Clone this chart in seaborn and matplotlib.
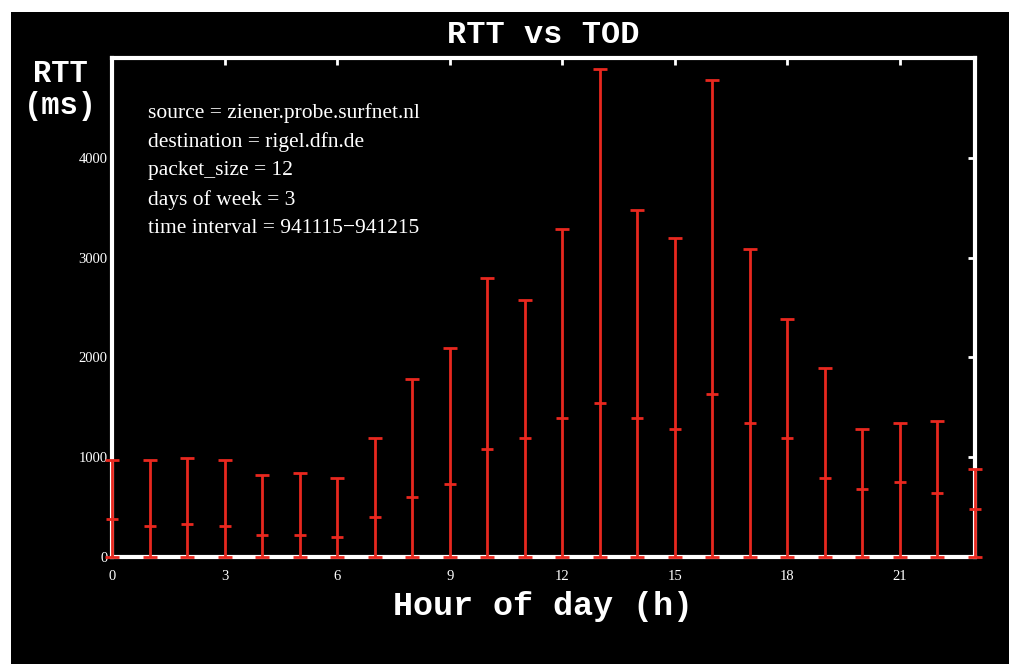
import numpy as np
import pandas as pd
import matplotlib
matplotlib.use("Agg")
import matplotlib.pyplot as plt
import seaborn as sns
from matplotlib.patches import Rectangle

# --- data ---
hours = list(range(24))
rtt_mean = [378, 311, 334, 311, 224, 224, 200, 398, 599, 733, 1081, 1191,
            1389, 1543, 1389, 1278, 1630, 1342, 1191, 793, 683, 750, 639, 485]
rtt_max = [972, 970, 994, 970, 820, 840, 796, 1195, 1784, 2096, 2798, 2580,
           3283, 4890, 3481, 3196, 4782, 3082, 2380, 1898, 1278, 1342, 1365, 880]
rtt_min = [0] * 24

x_ticks = [0, 3, 6, 9, 12, 15, 18, 21]
y_ticks = [0, 1000, 2000, 3000, 4000]

info_lines = [
    "source = ziener.probe.surfnet.nl",
    "destination = rigel.dfn.de",
    "packet_size = 12",
    "days of week = 3",
    "time interval = 941115\u2212941215",
]

df = pd.DataFrame({"hour": hours, "mean": rtt_mean, "max": rtt_max, "min": rtt_min})

RED = "#e8281f"
sns.set_style("dark", {"axes.facecolor": "black", "figure.facecolor": "white",
                       "axes.edgecolor": "white", "text.color": "white",
                       "xtick.color": "white", "ytick.color": "white"})
plt.rcParams["font.family"] = ["Liberation Serif", "DejaVu Serif"]

fig = plt.figure(figsize=(10.09, 6.64), dpi=100)
# black canvas with thin white margin at top/left
fig.patches.append(Rectangle((11 / 1009, 0), 1, 1 - 12 / 664, transform=fig.transFigure,
                             facecolor="black", edgecolor="none", zorder=-10))
ax = fig.add_axes([112 / 1009, 1 - 557 / 664, 863 / 1009, 499 / 664])
ax.set_facecolor("black")

# min/max whiskers as error bars, mean ticks through seaborn
yerr = np.vstack([df["mean"] - df["min"], df["max"] - df["mean"]])
ax.errorbar(df["hour"], df["mean"], yerr=yerr, fmt="none", ecolor=RED,
            elinewidth=2, capsize=5, capthick=2, zorder=5, clip_on=False)
sns.scatterplot(data=df, x="hour", y="mean", marker="_", s=70, color=RED,
                linewidth=2, ax=ax, zorder=6, clip_on=False, legend=False)

ax.set_xlim(0, 23)
ax.set_ylim(0, 5000)
ax.set_xticks(x_ticks)
ax.set_yticks(y_ticks)
ax.tick_params(direction="in", length=5, width=2, colors="white",
               top=True, right=True, labelsize=10.5)
ax.tick_params(axis="y", pad=3)
ax.tick_params(axis="x", pad=9)
for lab in ax.get_xticklabels() + ax.get_yticklabels():
    lab.set_color("white")
for sp in ax.spines.values():
    sp.set_color("white")
    sp.set_linewidth(3)
    sp.set_visible(True)
ax.grid(False)
ax.set_xlabel("")
ax.set_ylabel("")

for i, line in enumerate(info_lines):
    ax.text(0.042, 0.89 - i * 0.058, line, transform=ax.transAxes, va="center",
            ha="left", fontsize=15.5, color="white")

mono = ["Liberation Mono", "DejaVu Sans Mono"]
fig.text(0.538, 1 - 35 / 664, "RTT vs TOD", ha="center", va="center",
         family=mono, weight="bold", fontsize=23, color="white")
fig.text(0.538, 1 - 607 / 664, "Hour of day (h)", ha="center", va="center",
         family=mono, weight="bold", fontsize=24, color="white")
fig.text(60 / 1009, 1 - 90 / 664, "RTT\n(ms)", ha="center", va="center",
         family=mono, weight="bold", fontsize=22, color="white", linespacing=1.1)

fig.savefig("out.png", dpi=100)
